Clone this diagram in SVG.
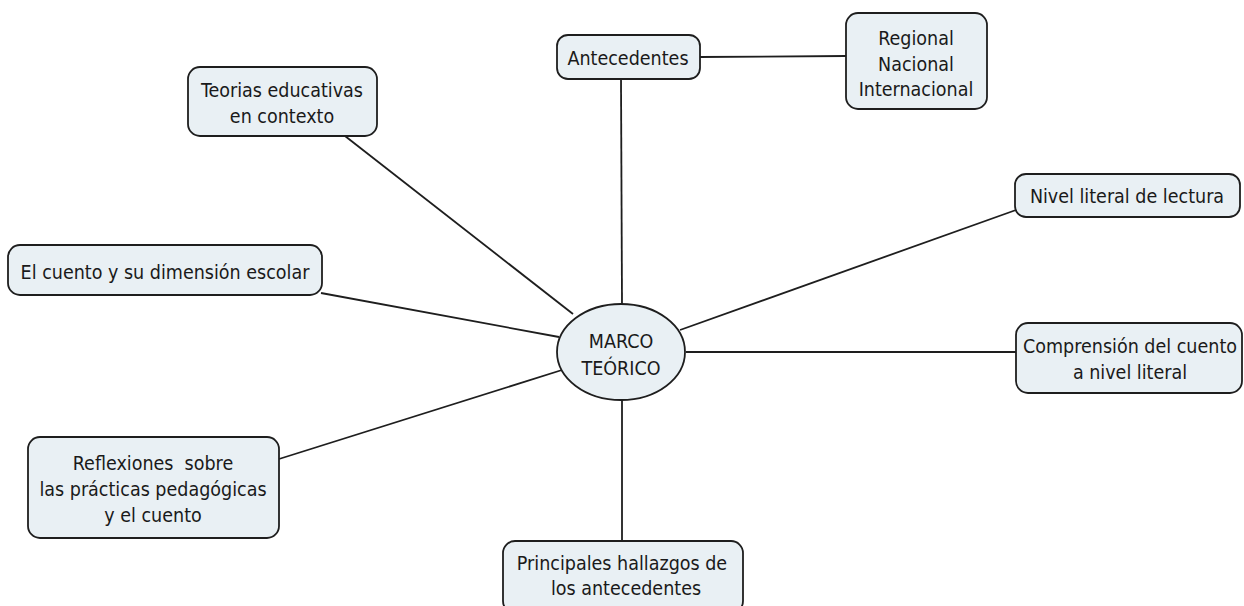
<svg xmlns="http://www.w3.org/2000/svg" width="1244" height="606" viewBox="0 0 1244 606">
<style>
.n{fill:#e9f0f4;stroke:#1e1e1e;stroke-width:1.8}
.t{font-family:"DejaVu Sans Condensed","DejaVu Sans",sans-serif;font-stretch:condensed;font-size:19.5px;fill:#1a1a1a;text-anchor:middle}
.c{stroke:#1e1e1e;stroke-width:1.8;fill:none}
</style>
<rect width="1244" height="606" fill="#ffffff"/>
<g id="connectors">
<line class="c" x1="699" y1="57" x2="846" y2="56"/>
<line class="c" x1="621" y1="79" x2="622" y2="304"/>
<line class="c" x1="345" y1="136" x2="573" y2="314"/>
<line class="c" x1="321" y1="293" x2="559" y2="337"/>
<line class="c" x1="279" y1="459" x2="562" y2="370"/>
<line class="c" x1="622" y1="400" x2="622" y2="541"/>
<line class="c" x1="1016" y1="210" x2="680" y2="330"/>
<line class="c" x1="686" y1="352" x2="1016" y2="352"/>
</g>
<g id="marco">
<ellipse class="n" cx="621" cy="352" rx="64" ry="48"/>
<text class="t" x="621" y="348">MARCO</text>
<text class="t" x="621" y="375">TEÓRICO</text>
</g>
<g id="antecedentes">
<rect class="n" x="557" y="35" width="143" height="44" rx="11"/>
<text class="t" x="628" y="65">Antecedentes</text>
</g>
<g id="regional">
<rect class="n" x="846" y="13" width="141" height="96" rx="12"/>
<text class="t" x="916" y="45">Regional</text>
<text class="t" x="916" y="71">Nacional</text>
<text class="t" x="916" y="96">Internacional</text>
</g>
<g id="teorias">
<rect class="n" x="188" y="67" width="189" height="69" rx="12"/>
<text class="t" x="282" y="97">Teorias educativas</text>
<text class="t" x="282" y="123">en contexto</text>
</g>
<g id="cuento">
<rect class="n" x="8" y="245" width="314" height="50" rx="12"/>
<text class="t" x="165" y="279">El cuento y su dimensión escolar</text>
</g>
<g id="reflexiones">
<rect class="n" x="28" y="437" width="251" height="101" rx="12"/>
<text class="t" x="153" y="470" xml:space="preserve">Reflexiones  sobre</text>
<text class="t" x="153" y="496">las prácticas pedagógicas</text>
<text class="t" x="153" y="522">y el cuento</text>
</g>
<g id="principales">
<rect class="n" x="503" y="541" width="240" height="72" rx="12"/>
<text class="t" x="622" y="570">Principales hallazgos de</text>
<text class="t" x="626" y="595">los antecedentes</text>
</g>
<g id="nivel">
<rect class="n" x="1015" y="174" width="225" height="43" rx="11"/>
<text class="t" x="1127" y="203">Nivel literal de lectura</text>
</g>
<g id="comprension">
<rect class="n" x="1016" y="323" width="226" height="70" rx="12"/>
<text class="t" x="1130" y="353">Comprensión del cuento</text>
<text class="t" x="1130" y="379">a nivel literal</text>
</g>
</svg>
